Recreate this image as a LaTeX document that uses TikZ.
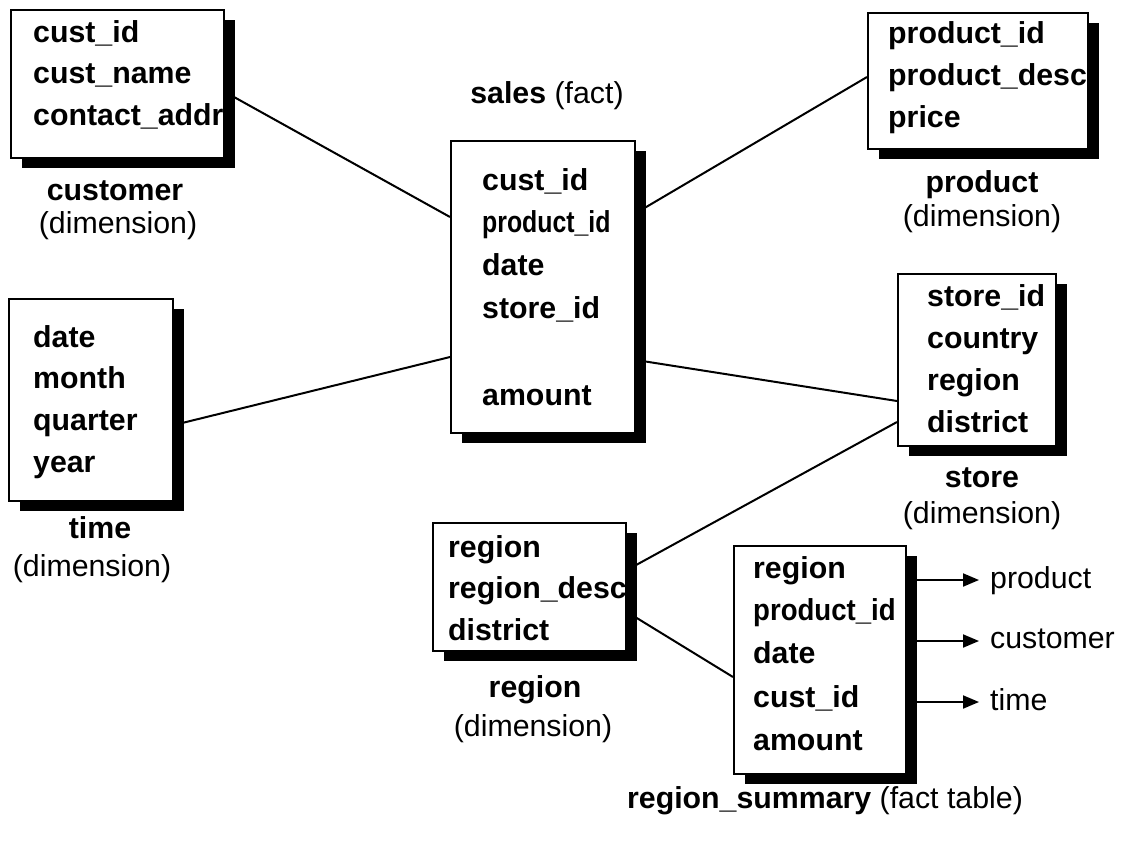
\documentclass[tikz,border=0pt]{standalone}
\usepackage{fontspec}
\usepackage{graphicx}
\setmainfont{Liberation Sans}
\usetikzlibrary{calc,shadows,arrows.meta}
\begin{document}
\begin{tikzpicture}[x=1pt,y=-1pt,
  tbl/.style={draw, line width=2pt, fill=white, inner sep=0pt, anchor=north west,
    drop shadow={shadow xshift=11pt, shadow yshift=-10pt, fill=black, opacity=1}},
  rowtxt/.style={anchor=base west, inner sep=0pt, font=\fontsize{30.3}{36}\selectfont\bfseries},
  captxt/.style={anchor=base, inner sep=0pt, font=\fontsize{30.3}{36}\selectfont},
  bcaptxt/.style={captxt, font=\fontsize{30.3}{36}\selectfont\bfseries},
  conn/.style={line width=2pt},
  arr/.style={line width=2pt, -{Triangle[length=16pt,width=13pt]}}
]
\useasboundingbox (0,0) rectangle (1121,857);

% ---- tables ----
\node[tbl, minimum width=213pt, minimum height=148pt] (cust) at (10,9) {};
\node[tbl, minimum width=184pt, minimum height=292pt] (sales) at (450,140) {};
\node[tbl, minimum width=220pt, minimum height=136pt] (prod) at (867,12) {};
\node[tbl, minimum width=158pt, minimum height=172pt] (store) at (897,273) {};
\node[tbl, minimum width=164pt, minimum height=202pt] (time) at (8,298) {};
\node[tbl, minimum width=193pt, minimum height=128pt] (reg) at (432,522) {};
\node[tbl, minimum width=172pt, minimum height=228pt] (sum) at (733,545) {};

% ---- rows ----
\begin{scope}
\clip (cust.north west) rectangle (cust.south east);
\node[rowtxt] (c1) at (33,42) {cust\_id};
\node[rowtxt] (c2) at (33,83) {cust\_name};
\node[rowtxt] (c3) at (33,125) {contact\_addr};
\end{scope}

\begin{scope}
\clip (sales.north west) rectangle (sales.south east);
\node[rowtxt] (s1) at (482,190) {cust\_id};
\node[rowtxt] (s2) at (482,232) {\scalebox{0.82}[1]{product\_id}};
\node[rowtxt] (s3) at (482,275) {date};
\node[rowtxt] (s4) at (482,318) {store\_id};
\node[rowtxt] (s5) at (482,405) {amount};
\end{scope}

\begin{scope}
\clip (prod.north west) rectangle (prod.south east);
\node[rowtxt] (p1) at (888,43) {product\_id};
\node[rowtxt] (p2) at (888,85) {product\_desc};
\node[rowtxt] (p3) at (888,127) {price};
\end{scope}

\begin{scope}
\clip (store.north west) rectangle (store.south east);
\node[rowtxt] (st1) at (927,306) {store\_id};
\node[rowtxt] (st2) at (927,348) {country};
\node[rowtxt] (st3) at (927,390) {region};
\node[rowtxt] (st4) at (927,432) {district};
\end{scope}

\begin{scope}
\clip (time.north west) rectangle (time.south east);
\node[rowtxt] (t1) at (33,347) {date};
\node[rowtxt] (t2) at (33,388) {month};
\node[rowtxt] (t3) at (33,430) {quarter};
\node[rowtxt] (t4) at (33,472) {year};
\end{scope}

\begin{scope}
\clip (reg.north west) rectangle (reg.south east);
\node[rowtxt] (r1) at (448,557) {region};
\node[rowtxt] (r2) at (448,598) {region\_desc};
\node[rowtxt] (r3) at (448,640) {district};
\end{scope}

\begin{scope}
\clip (sum.north west) rectangle (sum.south east);
\node[rowtxt] (u1) at (753,578) {region};
\node[rowtxt] (u2) at (753,620) {\scalebox{0.91}[1]{product\_id}};
\node[rowtxt] (u3) at (753,663) {date};
\node[rowtxt] (u4) at (753,707) {cust\_id};
\node[rowtxt] (u5) at (753,750) {amount};
\end{scope}

% ---- captions ----
\node[bcaptxt] (custcap) at (115,200) {customer};
\node[captxt] (custdim) at (118,233) {(dimension)};
\node[captxt] (salescap) at (547,103) {\textbf{sales} (fact)};
\node[bcaptxt] (prodcap) at (982,192) {product};
\node[captxt] (proddim) at (982,226) {(dimension)};
\node[bcaptxt] (storecap) at (982,487) {store};
\node[captxt] (storedim) at (982,523) {(dimension)};
\node[bcaptxt] (timecap) at (100,538) {time};
\node[captxt] (timedim) at (92,576) {(dimension)};
\node[bcaptxt] (regcap) at (535,697) {region};
\node[captxt] (regdim) at (533,736) {(dimension)};
\node[captxt] (sumcap) at (825,808) {\textbf{region\_summary} (fact table)};

% ---- connectors ----
\draw[conn] ($(cust.north east)+(0,83)$) -- ($(sales.north west)+(0,77)$);
\draw[conn] ($(sales.north east)+(0,73)$) -- ($(prod.north west)+(0,65)$);
\draw[conn] ($(time.north east)+(0,127)$) -- ($(sales.north west)+(0,217)$);
\draw[conn] ($(sales.north east)+(0,220)$) -- ($(store.north west)+(0,128)$);
\draw[conn] ($(store.north west)+(0,149)$) -- ($(reg.north east)+(0,48)$);
\draw[conn] ($(reg.north east)+(0,90)$) -- ($(sum.north west)+(0,132)$);

% ---- arrows from region_summary ----
\node[captxt, anchor=base west, inner xsep=11pt] (lp) at (979,588) {product};
\node[captxt, anchor=base west, inner xsep=11pt] (lc) at (979,648) {customer};
\node[captxt, anchor=base west, inner xsep=11pt] (lt) at (979,710) {time};
\coordinate (a1) at ($(sum.north east)+(0,35)$);
\coordinate (a2) at ($(sum.north east)+(0,96)$);
\coordinate (a3) at ($(sum.north east)+(0,157)$);
\draw[arr] (a1) -- (a1 -| lp.west);
\draw[arr] (a2) -- (a2 -| lc.west);
\draw[arr] (a3) -- (a3 -| lt.west);
\end{tikzpicture}
\end{document}
